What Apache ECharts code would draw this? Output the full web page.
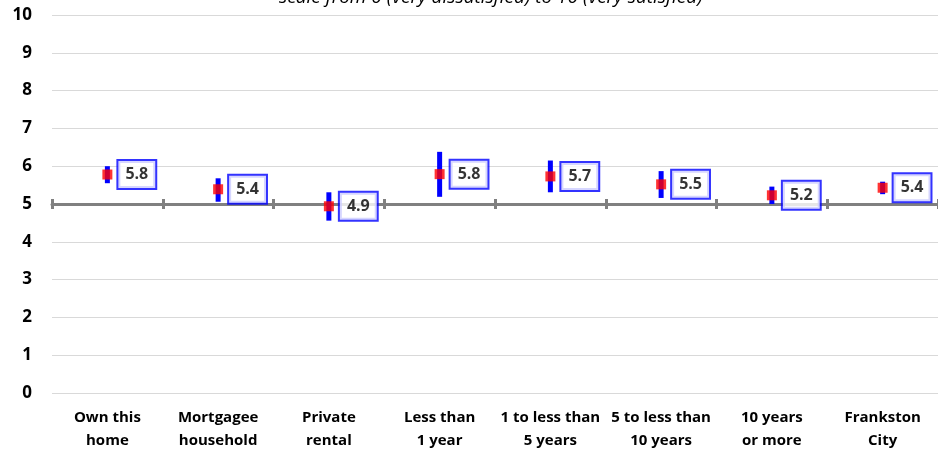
<!DOCTYPE html>
<html>
<head>
<meta charset="utf-8">
<script src="https://cdn.jsdelivr.net/npm/echarts@6/dist/echarts.min.js"></script>
<style>html,body{margin:0;padding:0;background:#fff}#c{width:938px;height:452px}</style>
</head>
<body>
<div id="c"></div>
<script>
const categories = ['Own this\nhome', 'Mortgagee\nhousehold', 'Private\nrental', 'Less than\n1 year', '1 to less than\n5 years', '5 to less than\n10 years', '10 years\nor more', 'Frankston\nCity'];
const means = [5.78, 5.39, 4.94, 5.79, 5.73, 5.52, 5.23, 5.43];
const lowers = [5.55, 5.06, 4.56, 5.19, 5.31, 5.16, 5.00, 5.26];
const uppers = [6.00, 5.68, 5.31, 6.38, 6.15, 5.87, 5.46, 5.59];
const yTicks = [0, 1, 2, 3, 4, 5, 6, 7, 8, 9, 10];
const titleText = 'scale from 0 (very dissatisfied) to 10 (very satisfied)';

const FONT = '"Open Sans", sans-serif';
const chart = echarts.init(document.getElementById('c'), null, {renderer: 'canvas'});
const errData = categories.map((c, i) => [i, lowers[i], uppers[i]]);
const ptData = categories.map((c, i) => [i, means[i]]);

const baseX = {
  type: 'category', data: categories, gridIndex: 0, boundaryGap: true
};
chart.setOption({
  animation: false,
  backgroundColor: '#ffffff',
  title: {
    text: titleText, left: 274, top: -17,
    textStyle: {fontFamily: FONT, fontStyle: 'italic', fontWeight: 'normal', fontSize: 19, color: '#000'}
  },
  grid: {left: 52, right: 0, top: 15, bottom: 59},
  xAxis: [
    Object.assign({}, baseX, {
      position: 'bottom',
      axisLine: {show: false}, axisTick: {show: false},
      axisLabel: {interval: 0, margin: 13, fontFamily: FONT, fontWeight: 'bold', fontSize: 15, color: '#000', lineHeight: 23}
    }),
    Object.assign({}, baseX, {
      position: 'bottom', offset: -189,
      axisLine: {show: true, lineStyle: {color: '#808080', width: 3}},
      axisTick: {show: true, length: 5, lineStyle: {color: '#808080', width: 3}},
      axisLabel: {show: false}
    }),
    Object.assign({}, baseX, {
      position: 'bottom', offset: -189,
      axisLine: {show: false},
      axisTick: {show: true, inside: true, length: 5, lineStyle: {color: '#808080', width: 3}},
      axisLabel: {show: false}
    })
  ],
  yAxis: {
    type: 'value', min: yTicks[0], max: yTicks[yTicks.length - 1], interval: 1,
    axisLine: {show: false}, axisTick: {show: false},
    splitLine: {lineStyle: {color: '#d9d9d9', width: 1}},
    axisLabel: {margin: 20, fontFamily: FONT, fontWeight: 'bold', fontSize: 17, color: '#000'}
  },
  series: [
    {
      type: 'custom', xAxisIndex: 0, yAxisIndex: 0, data: errData, z: 3,
      renderItem: function (params, api) {
        const lo = api.coord([api.value(0), api.value(1)]);
        const hi = api.coord([api.value(0), api.value(2)]);
        return {type: 'rect', shape: {x: lo[0] - 2.5, y: hi[1], width: 5, height: lo[1] - hi[1]}, style: {fill: '#0000ff'}};
      }
    },
    {
      type: 'scatter', xAxisIndex: 0, yAxisIndex: 0, data: ptData, z: 4,
      symbol: 'rect', symbolSize: 10,
      itemStyle: {color: '#ff0000'},
      label: {
        show: true, position: 'right', distance: 6,
        formatter: p => p.value[1].toFixed(1),
        fontFamily: FONT, fontWeight: 'bold', fontSize: 16, color: '#000',
        backgroundColor: '#fff', borderColor: '#0000ff', borderWidth: 2,
        padding: [6, 7, 5, 7]
      }
    }
  ]
});
</script>
</body>
</html>
